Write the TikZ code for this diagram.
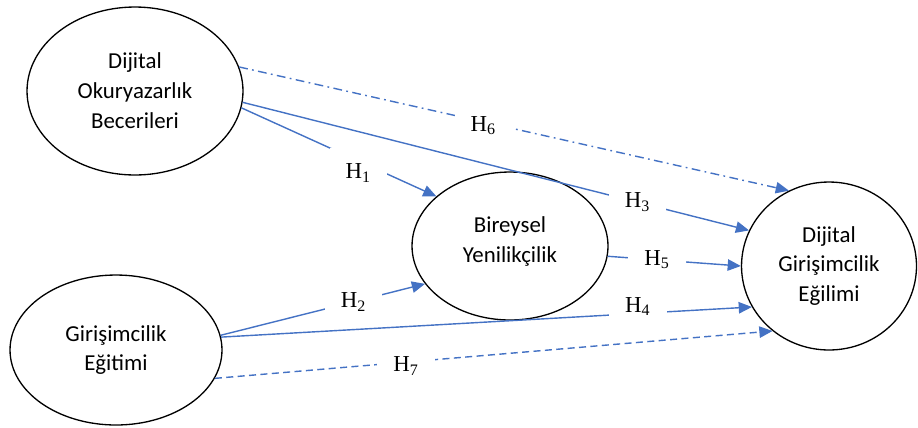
\documentclass[tikz,border=0pt]{standalone}
\usepackage{fontspec}
\setmainfont{Carlito}
\newfontfamily\hfont{Liberation Serif}
\usetikzlibrary{arrows.meta, shapes.geometric}
\definecolor{linkblue}{HTML}{4472C4}
\newcommand{\hyp}[1]{H\textsubscript{#1}}

\begin{document}
\begin{tikzpicture}[x=0.02cm, y=-0.02cm, >={Triangle[length=7.5pt, width=6.5pt]},
  construct/.style={draw, ellipse, line width=0.75pt, inner sep=0pt, align=center,
    font=\fontsize{13}{17}\selectfont},
  link/.style={->, linkblue, line width=0.8pt},
  hlabel/.style={fill=white, text=black, inner sep=1pt, minimum width=1.15cm,
    minimum height=0.55cm, font=\hfont\fontsize{13}{15}\selectfont}]
  \useasboundingbox (0,0) rectangle (918,427);
  % Constructs
  \node[construct, minimum width=4.32cm, minimum height=3.36cm] (dob) at (135,91)
    {Dijital\\Okuryazarlık\\Becerileri};
  \node[construct, minimum width=4.24cm, minimum height=3cm] (ge) at (116,350)
    {Girişimcilik\\Eğitimi};
  \node[construct, minimum width=3.92cm, minimum height=2.96cm] (by) at (510,246)
    {Bireysel\\Yenilikçilik\\[-10pt]\mbox{}};
  \node[construct, minimum width=3.5cm, minimum height=3.36cm] (dge) at (829,266)
    {Dijital\\Girişimcilik\\Eğilimi};
  % Hypotheses towards Bireysel Yenilikçilik
  \draw[link] (dob.-9) -- node[hlabel, pos=0.6, yshift=-0.24cm, minimum height=1cm] {\hyp1} (by.146);
  \draw[link] (ge.8.4) -- node[hlabel, pos=0.65] {\hyp2} (by.204.6);
  % Direct hypotheses towards Dijital Girisimcilik Egilimi
  \draw[link] (dob.-6.4) -- node[hlabel, pos=0.78] {\hyp3} (dge.156.3);
  \draw[link] (ge.7) -- node[hlabel, pos=0.785, yshift=0.14cm] {\hyp4} (dge.208);
  \draw[link] (by.-6.5) -- node[hlabel, pos=0.37] {\hyp5} (dge.180);
  % Mediated hypotheses
  \draw[link, dash pattern=on 5pt off 2.5pt on 1pt off 2.5pt] (dob.13.2)
    -- node[hlabel, pos=0.444, yshift=-0.08cm] {\hyp6} (dge.118.3);
  \draw[link, dash pattern=on 4pt off 2.5pt] (ge.-16.3)
    -- node[hlabel, pos=0.343, yshift=-0.08cm] {\hyp7} (dge.229.1);
\end{tikzpicture}
\end{document}
